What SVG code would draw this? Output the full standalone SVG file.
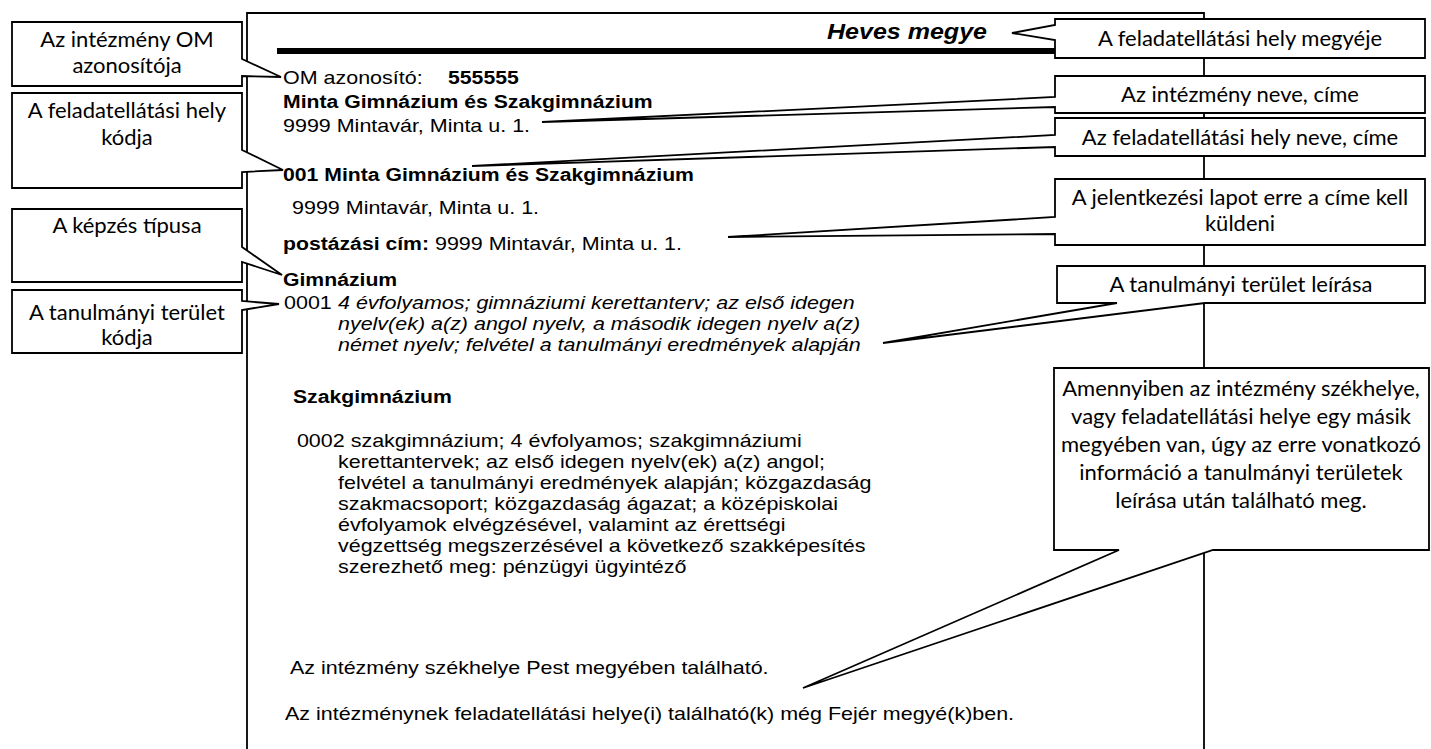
<svg xmlns="http://www.w3.org/2000/svg" width="1431" height="749" viewBox="0 0 1431 749">
<style>
.doc{font-family:"Liberation Sans",Arial,sans-serif;font-size:18.8px;fill:#000}
.b{font-weight:bold;font-size:18.55px}
.i{font-style:italic}
.co{fill:#fff;stroke:#000;stroke-width:1.8}
.ct{font-family:Lato,"Open Sans",sans-serif;font-size:22px;fill:#000;text-anchor:middle}
.frame{stroke:#000;stroke-width:1.8;fill:none}
</style>
<rect width="1431" height="749" fill="#fff"/>
<g id="frame">
<path class="frame" d="M247,749 V13 H1204 V749"/>
<rect x="277" y="48" width="778" height="6" fill="#000"/>
</g>
<g id="document" class="doc" transform="matrix(1.143 0 0 1 -40.47 0)">
<text x="898.9" y="39" class="b i" text-anchor="end" style="font-size:21.9px">Heves megye</text>
<text x="283" y="84">OM azonosító:</text>
<text x="427.4" y="84" class="b">555555</text>
<text x="283" y="108" class="b">Minta Gimnázium és Szakgimnázium</text>
<text x="283" y="132">9999 Mintavár, Minta u. 1.</text>
<text x="283" y="181" class="b">001 Minta Gimnázium és Szakgimnázium</text>
<text x="290.9" y="214">9999 Mintavár, Minta u. 1.</text>
<text x="283" y="250"><tspan class="b">postázási cím:</tspan> 9999 Mintavár, Minta u. 1.</text>
<text x="283" y="286" class="b">Gimnázium</text>
<text x="283.9" y="309">0001</text>
<text x="331.1" y="309" class="i">4 évfolyamos; gimnáziumi kerettanterv; az első idegen</text>
<text x="331.1" y="330" class="i">nyelv(ek) a(z) angol nyelv, a második idegen nyelv a(z)</text>
<text x="331.1" y="351" class="i">német nyelv; felvétel a tanulmányi eredmények alapján</text>
<text x="291.7" y="403" class="b">Szakgimnázium</text>
<text x="295.2" y="447">0002 szakgimnázium; 4 évfolyamos; szakgimnáziumi</text>
<text x="331.1" y="468">kerettantervek; az első idegen nyelv(ek) a(z) angol;</text>
<text x="331.1" y="489">felvétel a tanulmányi eredmények alapján; közgazdaság</text>
<text x="331.1" y="510">szakmacsoport; közgazdaság ágazat; a középiskolai</text>
<text x="331.1" y="531">évfolyamok elvégzésével, valamint az érettségi</text>
<text x="331.1" y="552">végzettség megszerzésével a következő szakképesítés</text>
<text x="331.1" y="573">szerezhető meg: pénzügyi ügyintéző</text>
<text x="289.1" y="674">Az intézmény székhelye Pest megyében található.</text>
<text x="284.7" y="720">Az intézménynek feladatellátási helye(i) található(k) még Fejér megyé(k)ben.</text>
</g>
<g id="callout-om">
<path class="co" d="M12,22 H242 V59 L281,77 L242,76 V86 H12 Z"/>
<text class="ct" x="127" y="47">Az intézmény OM</text>
<text class="ct" x="127" y="73">azonosítója</text>
</g>
<g id="callout-hely-kod">
<path class="co" d="M12,93 H242 V150 L283,170 L242,172 V188 H12 Z"/>
<text class="ct" x="127" y="118">A feladatellátási hely</text>
<text class="ct" x="127" y="145">kódja</text>
</g>
<g id="callout-kepzes">
<path class="co" d="M12,209 H242 V247 L282,275 L242,262 V282 H12 Z"/>
<text class="ct" x="127" y="233">A képzés típusa</text>
</g>
<g id="callout-terulet-kod">
<path class="co" d="M12,290 H242 V301 L279,304 L242,310 V353 H12 Z"/>
<text class="ct" x="127" y="320">A tanulmányi terület</text>
<text class="ct" x="127" y="345">kódja</text>
</g>
<g id="callout-megye">
<path class="co" d="M1055,19 H1425 V58 H1055 V40 L1012,33 L1055,25 Z"/>
<text class="ct" x="1240" y="46">A feladatellátási hely megyéje</text>
</g>
<g id="callout-intezmeny">
<path class="co" d="M1055,76 H1425 V113 H1055 V107 L542,122 L1055,97 Z"/>
<text class="ct" x="1240" y="102">Az intézmény neve, címe</text>
</g>
<g id="callout-hely-nev">
<path class="co" d="M1055,118 H1425 V156 H1055 V147 L472,166 L1055,135 Z"/>
<text class="ct" x="1240" y="145">Az feladatellátási hely neve, címe</text>
</g>
<g id="callout-postazas">
<path class="co" d="M1055,179 H1425 V245 H1055 V234 L728,237 L1055,217 Z"/>
<text class="ct" x="1240" y="205">A jelentkezési lapot erre a címe kell</text>
<text class="ct" x="1240" y="231">küldeni</text>
</g>
<g id="callout-leiras">
<path class="co" d="M1057,266 H1425 V303 H1205 L883,343 L1117,303 H1057 Z"/>
<text class="ct" x="1241" y="292">A tanulmányi terület leírása</text>
</g>
<g id="callout-megyek">
<path class="co" d="M1054,368 H1429 V550 H1213 L803,688 L1119,550 H1054 Z"/>
<text class="ct" x="1241" y="396">Amennyiben az intézmény székhelye,</text>
<text class="ct" x="1241" y="424">vagy feladatellátási helye egy másik</text>
<text class="ct" x="1241" y="452">megyében van, úgy az erre vonatkozó</text>
<text class="ct" x="1241" y="480">információ a tanulmányi területek</text>
<text class="ct" x="1241" y="508">leírása után található meg.</text>
</g>
</svg>
